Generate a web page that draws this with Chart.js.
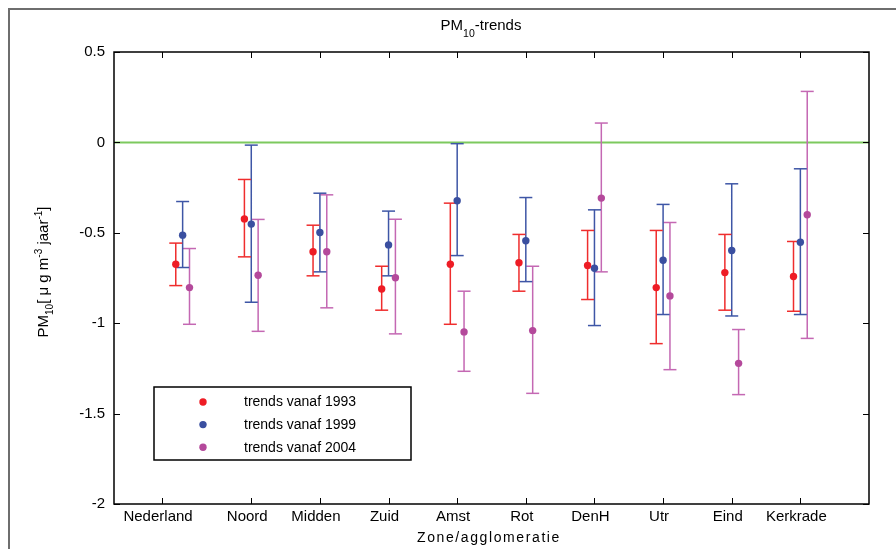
<!DOCTYPE html>
<html>
<head>
<meta charset="utf-8">
<script src="https://cdn.jsdelivr.net/npm/chart.js@4.4.1/dist/chart.umd.min.js"></script>
<style>
  html, body { margin: 0; padding: 0; background: #fff; }
  canvas { display: block; }
</style>
</head>
<body>
<canvas id="trendChart" width="896" height="549"></canvas>
<script>
// zones along the x axis
const zones = ['Nederland', 'Noord', 'Midden', 'Zuid', 'Amst', 'Rot', 'DenH', 'Utr', 'Eind', 'Kerkrade'];
const tickValues = [0.7, 2, 3, 4, 5, 6, 7, 8, 9, 10];
const yTicks = [0.5, 0, -0.5, -1, -1.5, -2];

// trend estimates with lower / upper bound, per start year
const trend1993 = [-0.674, -0.423, -0.605, -0.811, -0.674, -0.666, -0.681, -0.803, -0.720, -0.742];
const low1993   = [-0.792, -0.633, -0.738, -0.928, -1.006, -0.823, -0.869, -1.113, -0.928, -0.934];
const high1993  = [-0.557, -0.205, -0.458, -0.685, -0.336, -0.509, -0.487, -0.487, -0.509, -0.548];

const trend1999 = [-0.513, -0.452, -0.498, -0.567, -0.323, -0.544, -0.696, -0.652, -0.598, -0.552];
const low1999   = [-0.692, -0.884, -0.716, -0.738, -0.626, -0.770, -1.013, -0.952, -0.960, -0.952];
const high1999  = [-0.327, -0.015, -0.281, -0.380, -0.007, -0.305, -0.373, -0.343, -0.229, -0.146];

const trend2004 = [-0.803, -0.735, -0.605, -0.749, -1.048, -1.041, -0.308, -0.849, -1.222, -0.400];
const low2004   = [-1.006, -1.045, -0.915, -1.059, -1.266, -1.388, -0.716, -1.257, -1.395, -1.084];
const high2004  = [-0.587, -0.426, -0.290, -0.425, -0.823, -0.685, 0.107, -0.443, -1.035, 0.282];

const series = [
  { label: 'trends vanaf 1993', trend: trend1993, low: low1993, high: high1993, dot: '#ee1c25', bar: '#ef2d2d', shift: -0.1 },
  { label: 'trends vanaf 1999', trend: trend1999, low: low1999, high: high1999, dot: '#3a4fa0', bar: '#3e56a6', shift: 0 },
  { label: 'trends vanaf 2004', trend: trend2004, low: low2004, high: high2004, dot: '#b4499b', bar: '#c468b3', shift: 0.1 }
];

function errorBarData(s) {
  const pts = [];
  s.trend.forEach((v, i) => {
    const x = i + 1 + s.shift;
    pts.push({ x, y: s.low[i] }, { x, y: s.high[i] }, { x, y: null });
  });
  return pts;
}

function dotData(s) {
  return s.trend.map((v, i) => ({ x: i + 1 + s.shift, y: v }));
}

const datasets = [];
series.forEach(s => {
  datasets.push({
    type: 'line',
    label: s.label,
    isDot: true,
    data: dotData(s),
    showLine: false,
    pointRadius: 3.7,
    pointBackgroundColor: s.dot,
    pointBorderColor: s.dot,
    pointBorderWidth: 0,
    order: 0
  });
  datasets.push({
    type: 'line',
    label: s.label + ' bar',
    data: errorBarData(s),
    borderColor: s.bar,
    borderWidth: 1.5,
    spanGaps: false,
    pointStyle: 'line',
    pointRadius: 6.5,
    pointBorderColor: s.bar,
    pointBorderWidth: 1.5,
    order: 1
  });
});
datasets.push({
  type: 'line',
  label: 'zero',
  data: [{ x: 0, y: 0 }, { x: 11, y: 0 }],
  borderColor: '#7dc95e',
  borderWidth: 2,
  pointRadius: 0,
  order: 2
});

function drawRich(ctx, parts, x, y) {
  // parts: [text, size, yShift]
  let cx = x;
  parts.forEach(([t, size, dy]) => {
    ctx.font = size + 'px "Liberation Sans", Arial, sans-serif';
    ctx.fillText(t, cx, y + dy);
    cx += ctx.measureText(t).width;
  });
  return cx - x;
}

function richWidth(ctx, parts) {
  let w = 0;
  parts.forEach(([t, size]) => {
    ctx.font = size + 'px "Liberation Sans", Arial, sans-serif';
    w += ctx.measureText(t).width;
  });
  return w;
}

const decor = {
  id: 'decor',
  afterDraw(chart) {
    const { ctx, chartArea: a, scales: { x, y } } = chart;
    ctx.save();

    // figure frame (top + left)
    ctx.strokeStyle = '#6e6e6e';
    ctx.lineWidth = 2;
    ctx.beginPath();
    ctx.moveTo(9, 549); ctx.lineTo(9, 9); ctx.lineTo(896, 9);
    ctx.stroke();

    // axes box
    ctx.strokeStyle = '#000';
    ctx.lineWidth = 1.5;
    ctx.strokeRect(a.left, a.top, a.right - a.left, a.bottom - a.top);

    // inward ticks on all four sides
    ctx.lineWidth = 1;
    ctx.beginPath();
    x.ticks.forEach(t => {
      const px = Math.round(x.getPixelForValue(t.value)) + 0.5;
      ctx.moveTo(px, a.bottom); ctx.lineTo(px, a.bottom - 6);
      ctx.moveTo(px, a.top); ctx.lineTo(px, a.top + 6);
    });
    y.ticks.forEach(t => {
      const py = Math.round(y.getPixelForValue(t.value)) + 0.5;
      ctx.moveTo(a.left, py); ctx.lineTo(a.left + 6, py);
      ctx.moveTo(a.right, py); ctx.lineTo(a.right - 6, py);
    });
    ctx.stroke();

    ctx.fillStyle = '#000';
    ctx.textBaseline = 'alphabetic';
    ctx.textAlign = 'left';

    // title
    const title = [['PM', 15, 0], ['10', 10.5, 7], ['-trends', 15, 0]];
    const tw = richWidth(ctx, title);
    drawRich(ctx, title, 481 - tw / 2, 29.5);

    // x axis title
    ctx.font = '14px "Liberation Sans", Arial, sans-serif';
    ctx.letterSpacing = '1.6px';
    ctx.textAlign = 'center';
    ctx.fillText('Zone/agglomeratie', 489, 542);
    ctx.letterSpacing = '0px';
    ctx.textAlign = 'left';

    // y axis title (rotated)
    const ylab = [['PM', 15, 0], ['10', 10, 5], ['[ \u03bc g m', 15, 0], ['-3', 10, -6], [' jaar', 15, 0], ['-1', 10, -6], [']', 15, 0]];
    const yw = richWidth(ctx, ylab);
    ctx.save();
    ctx.translate(48, 272);
    ctx.rotate(-Math.PI / 2);
    drawRich(ctx, ylab, -yw / 2, 0);
    ctx.restore();

    // legend box
    ctx.fillStyle = '#fff';
    ctx.fillRect(154, 387, 257, 73);
    ctx.strokeStyle = '#000';
    ctx.lineWidth = 1.5;
    ctx.strokeRect(154, 387, 257, 73);
    const dots = chart.data.datasets.filter(d => d.isDot);
    dots.forEach((d, i) => {
      const ly = 402 + i * 22.6;
      ctx.fillStyle = d.pointBackgroundColor;
      ctx.beginPath();
      ctx.arc(203, ly, 3.7, 0, Math.PI * 2);
      ctx.fill();
      ctx.fillStyle = '#000';
      ctx.font = '14px "Liberation Sans", Arial, sans-serif';
      ctx.textBaseline = 'middle';
      ctx.fillText(d.label, 244, ly + 0.5);
    });
    ctx.restore();
  }
};

new Chart(document.getElementById('trendChart'), {
  data: { datasets },
  options: {
    responsive: false,
    animation: false,
    devicePixelRatio: 1,
    layout: { padding: { top: 52, right: 27, left: 0, bottom: 0 } },
    plugins: {
      legend: { display: false },
      title: { display: false },
      tooltip: { enabled: false }
    },
    scales: {
      x: {
        type: 'linear',
        min: 0,
        max: 11,
        afterBuildTicks: axis => { axis.ticks = tickValues.map(v => ({ value: v })); },
        afterFit: s => { s.height = 45; },
        grid: { display: false, drawTicks: false },
        border: { display: false },
        ticks: {
          autoSkip: false,
          maxRotation: 0,
          padding: 4,
          labelOffset: -4,
          color: '#000',
          font: { family: '"Liberation Sans", Arial, sans-serif', size: 15 },
          callback: (v, i) => zones[i]
        }
      },
      y: {
        type: 'linear',
        min: -2,
        max: 0.5,
        afterBuildTicks: axis => { axis.ticks = yTicks.map(v => ({ value: v })); },
        afterFit: s => { s.width = 114; },
        grid: { display: false, drawTicks: false },
        border: { display: false },
        ticks: {
          padding: 9,
          color: '#000',
          font: { family: '"Liberation Sans", Arial, sans-serif', size: 15 },
          callback: v => String(v)
        }
      }
    }
  },
  plugins: [decor]
});
</script>
</body>
</html>
